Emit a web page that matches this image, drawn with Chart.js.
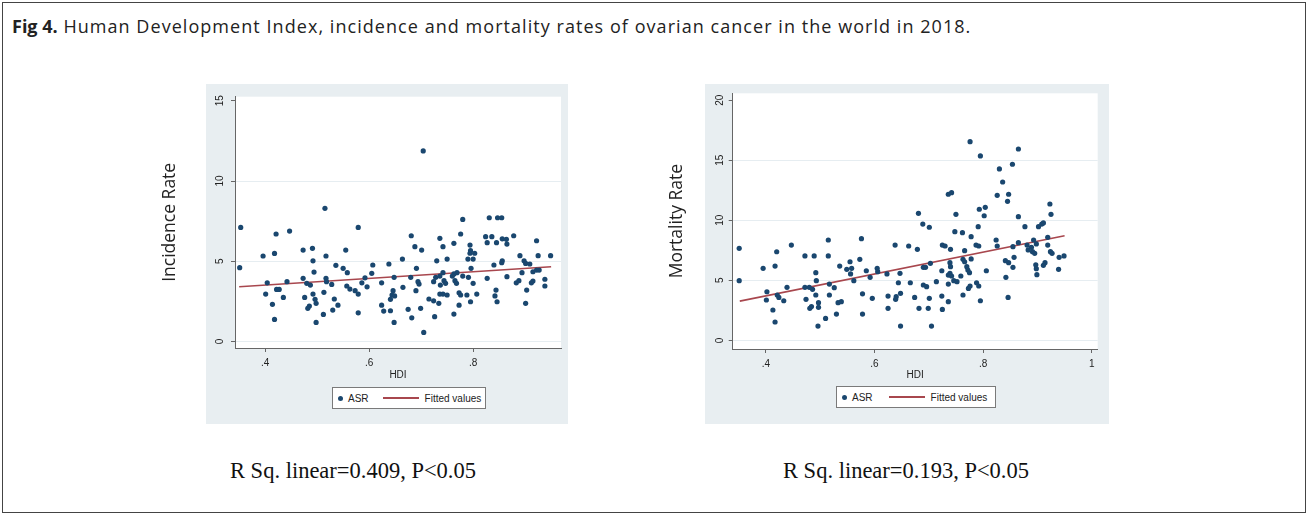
<!DOCTYPE html>
<html lang="en">
<head>
<meta charset="UTF-8">
<title>HDI, incidence and mortality rates of ovarian cancer 2018</title>
<script src="https://cdn.jsdelivr.net/npm/chart.js"></script>
<style>
    body { margin: 0; width: 1309px; height: 515px; position: relative; overflow: hidden; background: #fff; }
    #frame { position: absolute; left: 2px; top: 2px; width: 1302px; height: 509px; border: 1px solid #444; }
    #caption { position: absolute; left: 12px; top: 14px; font-family: "Open Sans", sans-serif; font-size: 18px; letter-spacing: 1.05px; color: #222; white-space: nowrap; }
    #caption b { font-weight: 700; letter-spacing: 0; }
    .panel { position: absolute; top: 84px; height: 340px; background: #e8eef1; }
    canvas { position: absolute; top: 84px; }
    .legend { position: absolute; height: 22px; background: #fff; border: 1px solid #7a7a7a; box-sizing: border-box;
              display: flex; align-items: center; font-family: "Liberation Sans", Arial, sans-serif; font-size: 10px; color: #222; }
    .legend .dot { width: 5px; height: 5px; border-radius: 50%; background: #1a476f; margin-left: 5px; }
    .legend .fit { width: 36px; height: 2px; background: #a8474e; margin-left: 14px; margin-right: 6px; }
    .legend .asr { margin-left: 5px; }
    .rsq { position: absolute; top: 458px; width: 340px; text-align: center; font-family: "Liberation Serif", serif; font-size: 22.5px; color: #111; }
</style>
</head>
<body>
<div id="frame"></div>
<div id="caption"><b>Fig 4.</b> Human Development Index, incidence and mortality rates of ovarian cancer in the world in 2018.</div>

<div class="panel" style="left:206px; width:362px;"></div>
<div class="panel" style="left:705px; width:404px;"></div>

<canvas id="incChart" width="420" height="340" style="left:150px;"></canvas>
<canvas id="mortChart" width="444" height="340" style="left:665px;"></canvas>

<div class="legend" style="left:332px; top:387px; width:154px;">
    <span class="dot"></span><span class="asr">ASR</span><span class="fit"></span><span>Fitted values</span>
</div>
<div class="legend" style="left:836px; top:386px; width:160px;">
    <span class="dot"></span><span class="asr">ASR</span><span class="fit" style="margin-left:16px"></span><span>Fitted values</span>
</div>

<div class="rsq" style="left:183px;">R Sq. linear=0.409, P&lt;0.05</div>
<div class="rsq" style="left:736px;">R Sq. linear=0.193, P&lt;0.05</div>

<script>
// incidence (left panel)
const incHdi = [0.353,0.351,0.421,0.447,0.396,0.418,0.404,0.401,0.422,0.427,0.414,0.435,0.418,0.442,0.473,0.491,0.517,0.492,0.494,0.473,
    0.480,0.487,0.476,0.492,0.496,0.485,0.482,0.498,0.498,0.512,0.513,0.517,0.518,0.528,0.536,0.550,0.558,0.555,0.579,0.533,
    0.540,0.530,0.557,0.563,0.573,0.579,0.579,0.586,0.592,0.596,0.515,0.704,0.780,0.831,0.847,0.855,0.681,0.736,0.776,0.824,
    0.827,0.836,0.845,0.856,0.864,0.865,0.878,0.922,0.688,0.701,0.742,0.763,0.794,0.795,0.803,0.794,0.790,0.800,0.750,0.730,
    0.664,0.890,0.925,0.949,0.856,0.855,0.607,0.638,0.691,0.840,0.898,0.901,0.909,0.796,0.605,0.742,0.769,0.760,0.763,0.780,
    0.791,0.728,0.736,0.648,0.680,0.894,0.915,0.922,0.927,0.865,0.827,0.624,0.694,0.696,0.724,0.744,0.747,0.737,0.765,0.768,
    0.800,0.883,0.888,0.912,0.915,0.938,0.938,0.665,0.646,0.690,0.644,0.649,0.641,0.736,0.742,0.750,0.773,0.776,0.788,0.807,
    0.795,0.844,0.842,0.846,0.901,0.903,0.624,0.628,0.641,0.648,0.675,0.682,0.699,0.715,0.724,0.734,0.726,0.773,0.763,0.705];
const incAsr = [7.11,4.60,6.70,6.88,5.33,5.49,3.66,2.96,3.25,3.25,2.32,2.75,1.38,3.73,5.70,5.81,5.33,5.03,4.33,3.94,
    3.63,3.52,2.75,2.96,2.63,2.21,2.07,2.38,1.19,1.69,3.07,3.94,3.73,3.56,4.75,4.56,4.29,5.70,7.11,2.65,
    2.27,1.96,3.46,3.27,3.17,2.96,1.79,3.66,3.97,3.41,8.30,11.87,7.61,7.71,7.71,7.71,6.59,6.43,6.70,6.53,
    6.16,6.53,6.16,6.40,6.37,6.07,6.59,6.28,5.91,5.70,5.91,6.12,6.01,5.66,5.50,5.50,5.14,5.14,5.14,5.03,
    5.14,5.35,5.35,5.35,5.03,4.91,4.77,4.83,4.56,4.77,5.03,4.87,4.83,4.56,4.25,4.29,4.29,4.08,4.21,4.08,
    4.00,4.00,4.08,4.00,4.00,4.29,4.35,4.45,4.45,4.04,3.94,3.66,3.73,3.58,3.73,3.79,3.63,3.52,3.79,3.63,
    3.63,3.66,3.79,3.66,3.77,3.88,3.46,3.38,3.17,3.17,2.90,2.84,2.63,2.96,2.96,2.90,3.04,2.90,2.90,2.96,
    2.48,3.21,2.84,2.48,2.38,3.21,2.27,1.90,1.92,1.19,2.01,1.48,2.07,2.65,2.54,2.38,1.55,2.27,1.71,0.57];
const incFitHdi = [0.35, 0.95];
const incFitVal = [3.41, 4.66];
const incXTicks = [0.4, 0.6, 0.8];
const incYTicks = [0, 5, 10, 15];

// mortality (right panel)
const mortHdi = [0.351,0.351,0.395,0.420,0.417,0.447,0.472,0.489,0.515,0.515,0.576,0.573,0.555,0.402,0.401,0.421,0.424,0.433,0.439,0.413,
    0.417,0.472,0.480,0.486,0.474,0.492,0.492,0.493,0.481,0.484,0.497,0.497,0.496,0.510,0.517,0.517,0.526,0.533,0.539,0.530,
    0.536,0.549,0.558,0.556,0.562,0.578,0.578,0.585,0.592,0.596,0.605,0.606,0.623,0.625,0.625,0.689,0.701,0.748,0.762,0.791,
    0.778,0.787,0.792,0.824,0.826,0.855,0.865,0.877,0.902,0.908,0.911,0.881,0.883,0.889,0.893,0.898,0.891,0.895,0.919,0.919,
    0.924,0.927,0.940,0.949,0.914,0.911,0.897,0.898,0.899,0.939,0.857,0.841,0.847,0.855,0.842,0.846,0.638,0.663,0.679,0.725,
    0.730,0.740,0.703,0.690,0.694,0.739,0.740,0.766,0.763,0.766,0.778,0.770,0.772,0.775,0.806,0.724,0.739,0.742,0.736,0.746,
    0.752,0.759,0.736,0.714,0.690,0.696,0.666,0.647,0.644,0.648,0.640,0.639,0.674,0.682,0.699,0.701,0.724,0.736,0.725,0.763,
    0.773,0.776,0.788,0.792,0.795,0.648,0.705,0.776,0.795,0.865,0.830,0.854,0.836,0.826,0.847,0.845,0.736,0.742,0.681,0.750,
    0.793,0.804,0.802,0.865,0.923,0.925];
const mortAsr = [7.67,4.97,6.00,7.38,6.19,7.94,7.03,7.03,8.36,7.03,8.47,6.75,6.55,4.05,3.36,3.78,3.58,3.30,4.42,2.53,
    1.53,4.42,4.42,4.25,3.42,3.78,5.64,4.97,2.67,2.81,3.14,2.75,1.19,1.83,3.78,4.69,4.39,3.14,3.22,2.19,
    6.19,5.92,6.00,5.53,4.97,3.88,2.19,5.80,5.25,3.50,6.00,5.72,5.53,3.69,2.67,9.69,9.42,9.05,8.97,9.47,
    8.64,7.94,7.86,8.36,7.86,7.80,8.14,9.47,9.47,9.69,9.78,7.94,7.53,7.75,8.36,8.03,7.39,7.25,8.58,7.94,
    7.39,7.25,6.92,7.03,6.47,6.25,6.30,5.97,5.47,5.92,6.92,6.64,6.47,6.08,5.25,3.58,7.94,7.86,7.58,7.94,
    7.86,7.58,6.42,6.08,6.08,6.47,6.14,7.47,6.75,6.55,6.78,6.14,5.86,5.64,5.80,5.80,5.58,5.36,5.44,4.97,
    4.89,5.36,4.69,4.89,4.61,4.47,4.80,5.58,4.80,3.92,3.64,3.42,3.58,2.67,2.67,3.50,3.69,3.22,2.58,3.78,
    4.33,4.53,4.80,4.53,3.30,1.19,1.19,16.55,15.36,15.94,14.28,14.67,13.19,12.08,12.17,11.58,12.17,12.30,10.58,10.50,
    10.92,11.08,10.38,10.30,11.36,10.50];
const mortFitHdi = [0.352, 0.95];
const mortFitVal = [3.27, 8.72];
const mortXTicks = [0.4, 0.6, 0.8, 1];
const mortYTicks = [0, 5, 10, 15, 20];

const NAVY = '#1a476f';
const MAROON = '#a8474e';
const smallFont = { family: 'Liberation Sans', size: 10 };

// white plot region on the bluish panel
const plotBg = {
    id: 'plotBg',
    beforeDraw(chart) {
        const a = chart.chartArea;
        const ctx = chart.ctx;
        ctx.save();
        ctx.fillStyle = '#ffffff';
        ctx.fillRect(a.left, a.top, a.right - a.left, a.bottom - a.top);
        ctx.restore();
    }
};

function hdiLabel(v) {
    return v >= 1 ? String(v) : String(v).replace(/^0/, '');
}

function buildChart(id, s) {
    const pts = s.x.map((v, i) => ({ x: v, y: s.y[i] }));
    const fit = s.fitX.map((v, i) => ({ x: v, y: s.fitY[i] }));
    const topTick = s.yTicks[s.yTicks.length - 1];
    return new Chart(document.getElementById(id), {
        type: 'scatter',
        data: {
            datasets: [{
                label: 'ASR',
                data: pts,
                backgroundColor: NAVY,
                borderColor: NAVY,
                pointRadius: 2.6,
                pointBorderWidth: 0
            }, {
                label: 'Fitted values',
                type: 'line',
                data: fit,
                borderColor: MAROON,
                borderWidth: 1.6,
                pointRadius: 0,
                fill: false
            }]
        },
        options: {
            responsive: false,
            animation: false,
            layout: { padding: s.pad },
            plugins: { legend: { display: false }, tooltip: { enabled: false } },
            scales: {
                x: {
                    type: 'linear',
                    min: s.xMin, max: s.xMax,
                    afterBuildTicks: sc => { sc.ticks = s.xTicks.map(v => ({ value: v })); },
                    afterFit: sc => { sc.height = 40; },
                    border: { color: '#666' },
                    grid: { drawOnChartArea: false, tickLength: 4, tickColor: '#666' },
                    ticks: { padding: 5, font: smallFont, color: '#222', callback: hdiLabel },
                    title: { display: true, text: 'HDI', font: smallFont, color: '#222', padding: { top: 0, bottom: s.hdiPad } }
                },
                y: {
                    type: 'linear',
                    min: s.yMin, max: s.yMax,
                    afterBuildTicks: sc => { sc.ticks = s.yTicks.map(v => ({ value: v })); },
                    afterFit: sc => { sc.width = s.yWidth; },
                    border: { color: '#666' },
                    grid: {
                        color: c => (c.tick && c.tick.value === topTick) ? 'rgba(0,0,0,0)' : '#e6edf1',
                        tickLength: 4,
                        tickColor: '#666'
                    },
                    ticks: { minRotation: 90, maxRotation: 90, crossAlign: 'center', padding: s.yTickPad, font: smallFont, color: '#222' },
                    title: { display: true, text: s.yTitle, font: { family: 'Open Sans', size: 17.5 }, color: '#222', padding: { top: s.yTitlePad, bottom: 0 } }
                }
            }
        },
        plugins: [plotBg]
    });
}

buildChart('incChart', {
    x: incHdi, y: incAsr, fitX: incFitHdi, fitY: incFitVal,
    xTicks: incXTicks, yTicks: incYTicks,
    xMin: 0.342, xMax: 0.969, yMin: -0.4, yMax: 15.25,
    pad: { top: 12.7, right: 9, bottom: 36, left: 0 },
    yWidth: 85, yTickPad: 4.7, yTitle: 'Incidence Rate', yTitlePad: 10, hdiPad: 7
});

buildChart('mortChart', {
    x: mortHdi, y: mortAsr, fitX: mortFitHdi, fitY: mortFitVal,
    xTicks: mortXTicks, yTicks: mortYTicks,
    xMin: 0.339, xMax: 1.011, yMin: -0.72, yMax: 20.58,
    pad: { top: 9.3, right: 11.3, bottom: 35, left: 0 },
    yWidth: 67.7, yTickPad: 3.1, yTitle: 'Mortality Rate', yTitlePad: 2, hdiPad: 8
});
</script>
</body>
</html>
